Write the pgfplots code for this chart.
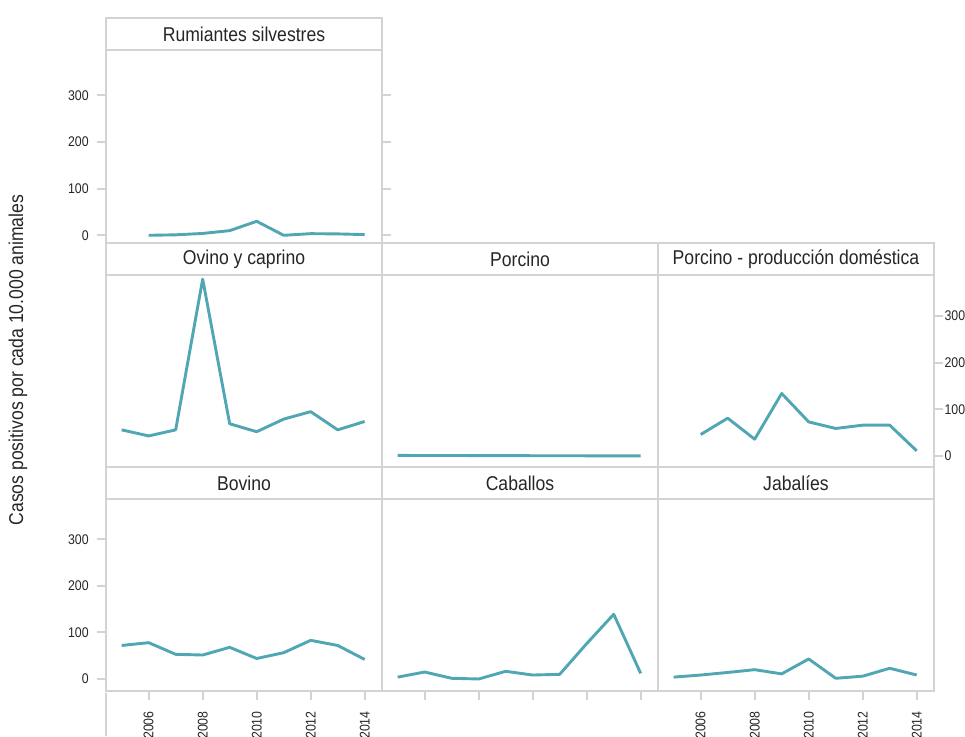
\documentclass[border=0pt]{standalone}
\usepackage{fontspec}
\setmainfont{Liberation Sans}[FakeStretch=0.88]
\usepackage{pgfplots}
\pgfplotsset{compat=1.18}

\definecolor{lineteal}{RGB}{80,166,178}
\definecolor{framegray}{RGB}{211,211,211}
\definecolor{textdark}{RGB}{38,38,38}

% rates per 10,000 animals, by year
\pgfplotstableread{
year val
2006 0
2007 1
2008 4
2009 10
2010 30
2011 0
2012 3.5
2013 3
2014 1.5
}\rumiantes
\pgfplotstableread{
year val
2005 56
2006 43
2007 56
2008 379
2009 69
2010 52
2011 79
2012 95
2013 56
2014 74
}\ovino
\pgfplotstableread{
year val
2005 1.2
2006 1.1
2007 1.0
2008 0.9
2009 0.8
2010 0.6
2011 0.5
2012 0.4
2013 0.2
2014 0.1
}\porcino
\pgfplotstableread{
year val
2006 46
2007 81
2008 36
2009 134
2010 73
2011 59
2012 66
2013 66
2014 11
}\porcinodom
\pgfplotstableread{
year val
2005 72
2006 78
2007 53
2008 51.5
2009 68
2010 44
2011 56.5
2012 83
2013 72
2014 42
}\bovino
\pgfplotstableread{
year val
2005 4
2006 15
2007 1.5
2008 0
2009 16.5
2010 8.5
2011 10
2012 76
2013 139
2014 12
}\caballos
\pgfplotstableread{
year val
2005 4
2006 8.5
2007 14
2008 20
2009 11
2010 43
2011 1.5
2012 6
2013 23
2014 8.5
}\jabalies

\newcommand{\stripfont}{\fontsize{10}{12}\selectfont}

\pgfplotsset{
  panel/.style={
    scale only axis, width=138pt, height=96pt,
    anchor=south west,
    xmin=2004.42, xmax=2014.64,
    clip=false,
    axis line style={framegray, line width=1pt},
    tick style={framegray, line width=1pt},
    major tick length=4.5pt, tick align=outside,
    xtick={2006,2008,2010,2012,2014}, ytick={0,100,200,300},
    ticklabel style={font=\fontsize{7}{8}\selectfont, text=textdark},
    /pgf/number format/assume math mode=true,
    /pgf/number format/1000 sep={},
    xticklabel style={rotate=90, anchor=east, inner xsep=5.5pt, inner ysep=1pt},
    yticklabel style={inner sep=1pt},
  },
  row1/.style={ymin=-16.5, ymax=397, height=96.5pt},
  row2/.style={ymin=-23.6, ymax=387.8},
  row3/.style={ymin=-25.8, ymax=386.5},
  series/.style={lineteal, line width=1.45pt, line join=round, no markers},
}

% strip with the panel name on top of the current axis
\newcommand{\panelstrip}[1]{%
  \draw[framegray, line width=1pt] (rel axis cs:0,1) rectangle ([yshift=16pt]rel axis cs:1,1);
  \node[font=\stripfont, text=textdark] at ([yshift=8pt]rel axis cs:0.5,1) {#1};
}

\begin{document}
\begin{tikzpicture}
\useasboundingbox (0,0) rectangle (482.5pt,368pt);

% top row
\begin{axis}[panel, row1, at={(53pt,246.5pt)},
  xmajorticks=false, ytick pos=both, yticklabel pos=left,
  yticklabel style={xshift=-3pt}]
\addplot[series] table[x=year, y=val] {\rumiantes};
\panelstrip{Rumiantes silvestres}
\end{axis}

% middle row
\begin{axis}[panel, row2, at={(53pt,134.5pt)},
  xmajorticks=false, ymajorticks=false]
\addplot[series] table[x=year, y=val] {\ovino};
\panelstrip{Ovino y caprino}
\end{axis}
\begin{axis}[panel, row2, at={(191pt,134.5pt)},
  xmajorticks=false, ymajorticks=false]
\addplot[series] table[x=year, y=val] {\porcino};
\panelstrip{Porcino}
\end{axis}
\begin{axis}[panel, row2, at={(329pt,134.5pt)},
  xmajorticks=false, ytick pos=right, yticklabel pos=right,
  yticklabel style={inner sep=0.6pt}]
\addplot[series] table[x=year, y=val] {\porcinodom};
\panelstrip{Porcino - producción doméstica}
\end{axis}

% bottom row
\begin{axis}[panel, row3, at={(53pt,22.5pt)},
  xtick pos=bottom, ytick pos=left, yticklabel style={xshift=-3pt}]
\addplot[series] table[x=year, y=val] {\bovino};
\panelstrip{Bovino}
\end{axis}
\begin{axis}[panel, row3, at={(191pt,22.5pt)},
  xtick pos=bottom, xticklabels={}, ymajorticks=false]
\addplot[series] table[x=year, y=val] {\caballos};
\panelstrip{Caballos}
\end{axis}
\begin{axis}[panel, row3, at={(329pt,22.5pt)},
  xtick pos=bottom, ymajorticks=false]
\addplot[series] table[x=year, y=val] {\jabalies};
\panelstrip{Jabalíes}
\end{axis}

\draw[framegray, line width=1pt] (53pt,0pt) -- (53pt,21.5pt);

\node[rotate=90, font=\fontsize{10}{12}\selectfont, text=textdark] at (9pt,188pt)
  {Casos positivos por cada 10.000 animales};

\end{tikzpicture}
\end{document}
